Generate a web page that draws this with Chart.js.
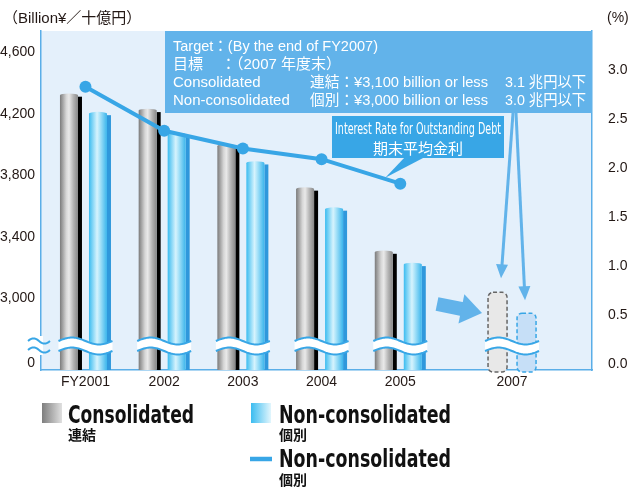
<!DOCTYPE html>
<html>
<head>
<meta charset="utf-8">
<script src="https://cdn.jsdelivr.net/npm/chart.js@4.4.1/dist/chart.umd.min.js"></script>
<style>
  html, body { margin: 0; padding: 0; background: #fff; }
</style>
</head>
<body>
<canvas id="chart" width="629" height="487"></canvas>
<script>
// data
const categories = ['FY2001', '2002', '2003', '2004', '2005', '2007'];
const yearPos = [0, 1, 2, 3, 4, 5.42];                  // 2006 is skipped, 2007 sits a bit closer
const consolidated = [4330, 4230, 4000, 3720, 3310, 3040];   // last one = target (dashed)
const nonConsolidated = [4210, 4075, 3890, 3590, 3230, 2905];
const interestRate = [2.83, 2.38, 2.20, 2.09, 1.84];
const leftTickValues = [2581, 3000, 3400, 3800, 4200, 4600]; // lowest one is the "0" below the break
const leftTickLabels = ['0', '3,000', '3,400', '3,800', '4,200', '4,600'];
const rightTicks = [0, 0.5, 1, 1.5, 2, 2.5, 3];

const SANS = "'Liberation Sans', Arial, 'Noto Sans CJK JP', sans-serif";
const NARROW = "'Liberation Sans Narrow', 'DejaVu Sans Condensed', 'Liberation Sans', sans-serif";
const CJK = "'Noto Sans CJK JP', sans-serif";
const BLUE = '#38a6e6';
const BOX = '#62b3ea';
const AXIS = '#5aaee8';
const TXT = '#231815';

const palettes = {
  Consolidated: {
    stops: [[0, '#7b7b7b'], [0.35, '#d6d6d6'], [0.5, '#e9e9e9'], [0.75, '#b3b3b3'], [1, '#878787']],
    shadow: '#000',
    dashFill: '#e8e8e8', dashLine: '#666'
  },
  'Non-consolidated': {
    stops: [[0, '#3bbcf0'], [0.45, '#d6f3fd'], [0.6, '#ace4f9'], [1, '#3ab5ec']],
    shadow: '#2f98dc',
    dashFill: '#c6dff7', dashLine: BLUE
  }
};

function hGrad(ctx, x0, x1, stops) {
  const g = ctx.createLinearGradient(x0, 0, x1, 0);
  stops.forEach(([o, c]) => g.addColorStop(o, c));
  return g;
}

function drawCylinder(ctx, el, pal, bottom) {
  const w = el.width, left = el.x - w / 2, top = el.y, base = Math.min(el.base, bottom);
  const body = w - 4;
  ctx.fillStyle = pal.shadow;
  ctx.fillRect(left + body, top + 3, 4, base - top - 3);
  ctx.fillStyle = hGrad(ctx, left, left + body, pal.stops);
  ctx.fillRect(left, top + 1.5, body, base - top - 1.5);
  ctx.beginPath();
  ctx.ellipse(left + body / 2, top + 1.5, body / 2, 1.8, 0, 0, Math.PI * 2);
  ctx.fill();
}

function roundRectPath(ctx, x, y, w, h, r) {
  ctx.beginPath();
  ctx.moveTo(x + r, y);
  ctx.arcTo(x + w, y, x + w, y + h, r);
  ctx.arcTo(x + w, y + h, x, y + h, r);
  ctx.arcTo(x, y + h, x, y, r);
  ctx.arcTo(x, y, x + w, y, r);
  ctx.closePath();
}

function drawDashed(ctx, el, pal, bottom) {
  const w = el.width - 3, left = el.x - w / 2;
  roundRectPath(ctx, left, el.y, w, bottom + 2 - el.y, 5);
  ctx.fillStyle = pal.dashFill;
  ctx.fill();
  ctx.setLineDash([4, 2.5]);
  ctx.lineWidth = 1.5;
  ctx.strokeStyle = pal.dashLine;
  ctx.stroke();
  ctx.setLineDash([]);
}

function drawBreak(ctx, l, r, yc) {
  const N = 40, top = [], bot = [];
  for (let k = 0; k <= N; k++) {
    const t = k / N, x = l + (r - l) * t, s = Math.sin(2 * Math.PI * t);
    top.push([x, yc - 5 - 3.5 * s]);
    bot.push([x, yc + 5 - 3.5 * s]);
  }
  ctx.beginPath();
  top.forEach(([x, y], k) => k ? ctx.lineTo(x, y) : ctx.moveTo(x, y));
  for (let k = N; k >= 0; k--) ctx.lineTo(bot[k][0], bot[k][1]);
  ctx.closePath();
  ctx.fillStyle = '#fff';
  ctx.fill();
  ctx.strokeStyle = BLUE;
  ctx.lineWidth = 2;
  [top, bot].forEach(pts => {
    ctx.beginPath();
    pts.forEach(([x, y], k) => k ? ctx.lineTo(x, y) : ctx.moveTo(x, y));
    ctx.stroke();
  });
}

function tilde(ctx, l, r, y, amp) {
  ctx.beginPath();
  for (let k = 0; k <= 20; k++) {
    const t = k / 20, x = l + (r - l) * t, yy = y - amp * Math.sin(2 * Math.PI * t);
    k ? ctx.lineTo(x, yy) : ctx.moveTo(x, yy);
  }
  ctx.stroke();
}

function arrow(ctx, x1, y1, x2, y2, head, hw, width) {
  const a = Math.atan2(y2 - y1, x2 - x1);
  const bx = x2 - head * Math.cos(a), by = y2 - head * Math.sin(a);
  ctx.lineWidth = width;
  ctx.lineCap = 'butt';
  ctx.beginPath();
  ctx.moveTo(x1, y1);
  ctx.lineTo(bx + Math.cos(a), by + Math.sin(a));
  ctx.stroke();
  ctx.beginPath();
  ctx.moveTo(x2, y2);
  ctx.lineTo(bx + hw * Math.sin(a), by - hw * Math.cos(a));
  ctx.lineTo(bx - hw * Math.sin(a), by + hw * Math.cos(a));
  ctx.closePath();
  ctx.fill();
}

const decor = {
  id: 'decor',
  beforeDraw(chart) {
    const { ctx, chartArea: a } = chart;
    ctx.save();
    ctx.fillStyle = '#fff';
    ctx.fillRect(0, 0, chart.width, chart.height);
    ctx.fillStyle = '#e4f0fb';
    ctx.fillRect(a.left, a.top, a.right - a.left, a.bottom - a.top);
    ctx.restore();
  },
  afterDatasetDraw(chart, args) {
    const meta = args.meta;
    if (meta.type !== 'bar') return;
    const ctx = chart.ctx;
    const pal = palettes[chart.data.datasets[meta.index].label];
    ctx.save();
    meta.data.forEach((el, i) => {
      if (i === categories.length - 1) drawDashed(ctx, el, pal, chart.chartArea.bottom);
      else drawCylinder(ctx, el, pal, chart.chartArea.bottom);
    });
    ctx.restore();
  },
  afterDatasetsDraw(chart) {
    const { ctx, chartArea: a, scales } = chart;
    ctx.save();

    // breaks across every group
    const yc = a.bottom - 24;
    yearPos.forEach(v => {
      const cx = scales.x.getPixelForValue(v);
      drawBreak(ctx, cx - 27, cx + 27, yc);
    });
    // break sign on the left axis
    ctx.fillStyle = '#fff';
    ctx.fillRect(a.left - 2, yc - 10, 4, 19);
    ctx.strokeStyle = BLUE;
    ctx.lineWidth = 2;
    tilde(ctx, a.left - 13, a.left + 9, yc - 5, 2.6);
    tilde(ctx, a.left - 13, a.left + 9, yc + 4, 2.6);

    // target box
    ctx.fillStyle = BOX;
    ctx.fillRect(165, a.top, a.right - 165, 113 - a.top);
    ctx.fillStyle = '#fff';
    ctx.textBaseline = 'alphabetic';
    ctx.textAlign = 'left';
    ctx.font = '15px ' + SANS;
    ctx.fillText('Target：(By the end of FY2007)', 173, 50.5, 205);
    ctx.fillText('目標', 173, 68.5);
    ctx.fillText('：（2007 年度末）', 221, 68.5);
    ctx.fillText('Consolidated', 173, 86.5);
    ctx.fillText('連結：¥3,100 billion or less', 310, 86.5, 178);
    ctx.fillText('3.1 兆円以下', 505, 86.5, 81);
    ctx.fillText('Non-consolidated', 173, 104.5, 124);
    ctx.fillText('個別：¥3,000 billion or less', 310, 104.5, 178);
    ctx.fillText('3.0 兆円以下', 505, 104.5, 81);

    // arrows from the target box down to the 2007 bars
    const last = categories.length - 1;
    const cEl = chart.getDatasetMeta(0).data[last];
    const nEl = chart.getDatasetMeta(1).data[last];
    ctx.strokeStyle = BOX;
    ctx.fillStyle = BOX;
    arrow(ctx, 513, 113, cEl.x + 3.5, cEl.y - 14, 14, 6, 3);
    arrow(ctx, 516, 113, nEl.x - 1.5, nEl.y - 13, 14, 6, 3);
    // fat arrow 2005 -> 2007
    arrow(ctx, 437, 304, 482, 313, 21, 15, 14);

    // interest-rate callout
    const lineMeta = chart.getDatasetMeta(2);
    const p = lineMeta.data[lineMeta.data.length - 1];
    ctx.fillStyle = BLUE;
    ctx.fillRect(332, 116, 172, 42);
    ctx.beginPath();
    ctx.moveTo(405, 157);
    ctx.lineTo(425, 157);
    ctx.lineTo(p.x - 15, p.y - 6);
    ctx.closePath();
    ctx.fill();
    ctx.fillStyle = '#fff';
    ctx.textAlign = 'center';
    ctx.font = '15px ' + NARROW;
    ctx.fillText('Interest Rate for Outstanding Debt', 418, 134, 166);
    ctx.font = '15px ' + CJK;
    ctx.fillText('期末平均金利', 418, 154);

    // axis units
    ctx.fillStyle = TXT;
    ctx.textAlign = 'left';
    ctx.font = '15px ' + SANS;
    ctx.fillText('（Billion¥／十億円）', 3, 23, 142);
    ctx.font = '14px ' + SANS;
    ctx.fillText('(%)', 607, 22);

    // legend
    ctx.fillStyle = hGrad(ctx, 42, 62, [[0, '#7e7e7e'], [1, '#e0e0e0']]);
    ctx.fillRect(42, 403, 20, 20);
    ctx.fillStyle = hGrad(ctx, 251, 271, [[0, '#3bbcf0'], [1, '#e2f6fd']]);
    ctx.fillRect(251, 403, 20, 20);
    ctx.strokeStyle = BLUE;
    ctx.lineWidth = 4.5;
    ctx.beginPath();
    ctx.moveTo(250, 459);
    ctx.lineTo(272, 459);
    ctx.stroke();

    ctx.fillStyle = '#111';
    ctx.font = 'bold 24px ' + NARROW;
    ctx.fillText('Consolidated', 68, 423, 126);
    ctx.fillText('Non-consolidated', 279, 423, 172);
    ctx.fillText('Non-consolidated', 279, 467, 172);
    ctx.font = 'bold 14px ' + CJK;
    ctx.fillText('連結', 68, 440);
    ctx.fillText('個別', 279, 440);
    ctx.fillText('個別', 279, 485);

    ctx.restore();
  }
};

const xyPairs = (vals) => vals.map((y, i) => ({ x: yearPos[i], y: y }));

new Chart(document.getElementById('chart'), {
  type: 'bar',
  data: {
    datasets: [
      {
        label: 'Consolidated',
        data: xyPairs(consolidated),
        yAxisID: 'y',
        backgroundColor: 'rgba(0,0,0,0)',
        borderWidth: 0,
        categoryPercentage: 0.737,
        barPercentage: 0.759,
        order: 1,
      },
      {
        label: 'Non-consolidated',
        data: xyPairs(nonConsolidated),
        yAxisID: 'y',
        backgroundColor: 'rgba(0,0,0,0)',
        borderWidth: 0,
        categoryPercentage: 0.737,
        barPercentage: 0.759,
        order: 1,
      },
      {
        type: 'line',
        label: 'Interest Rate',
        data: xyPairs(interestRate),
        yAxisID: 'y1',
        borderColor: BLUE,
        backgroundColor: BLUE,
        borderWidth: 4,
        pointRadius: 6,
        pointBorderWidth: 0,
        pointBackgroundColor: BLUE,
        tension: 0,
        order: 0,
      },
    ],
  },
  options: {
    responsive: false,
    devicePixelRatio: 1,
    animation: false,
    layout: { padding: { top: 31, left: 0, right: 0, bottom: 0 } },
    plugins: {
      legend: { display: false },
      tooltip: { enabled: false },
    },
    scales: {
      x: {
        type: 'linear',
        min: -0.565,
        max: 6.436,
        offset: false,
        grid: { display: false, drawTicks: false },
        border: { display: true, color: AXIS, width: 1.5 },
        afterBuildTicks: (s) => { s.ticks = yearPos.map((v) => ({ value: v })); },
        afterFit: (s) => { s.height = 117; },
        ticks: {
          autoSkip: false,
          maxRotation: 0,
          padding: 4,
          color: TXT,
          font: { family: SANS, size: 14 },
          callback: (v, i) => categories[i],
        },
      },
      y: {
        position: 'left',
        min: 2536,
        max: 4737,
        grid: { display: false, drawTicks: false },
        border: { display: true, color: AXIS, width: 1.5 },
        afterBuildTicks: (s) => { s.ticks = leftTickValues.map((v) => ({ value: v })); },
        afterFit: (s) => { s.width = 41; },
        ticks: {
          padding: 6,
          color: TXT,
          font: { family: SANS, size: 14 },
          callback: (v, i) => leftTickLabels[i],
        },
      },
      y1: {
        position: 'right',
        min: -0.061,
        max: 3.398,
        grid: { display: false, drawTicks: false },
        border: { display: true, color: AXIS, width: 1.5 },
        afterBuildTicks: (s) => { s.ticks = rightTicks.map((v) => ({ value: v })); },
        afterFit: (s) => { s.width = 37; },
        ticks: {
          padding: 16,
          color: TXT,
          font: { family: SANS, size: 14 },
          callback: (v) => v.toFixed(1),
        },
      },
    },
  },
  plugins: [decor],
});
</script>
</body>
</html>
